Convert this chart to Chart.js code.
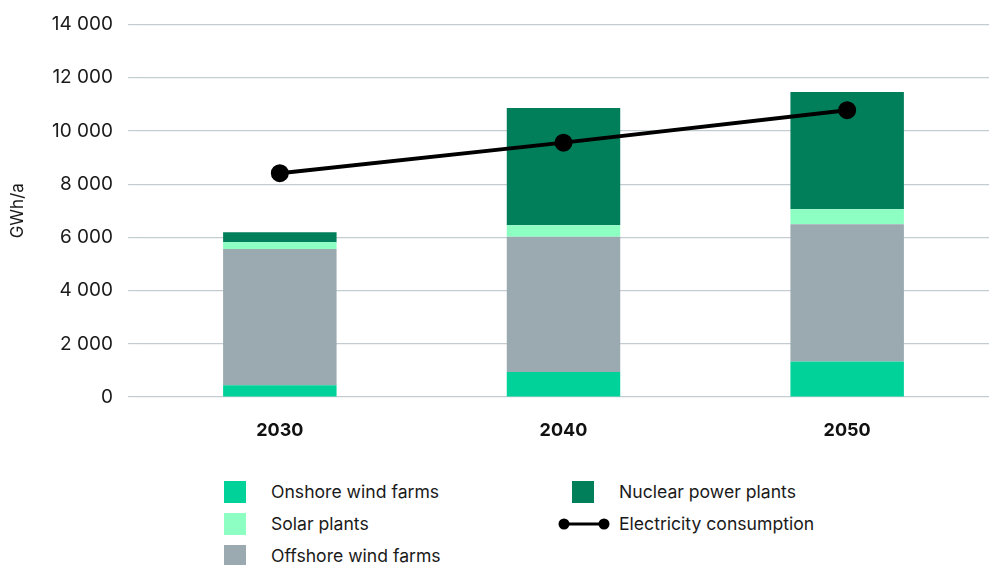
<!DOCTYPE html>
<html>
<head>
<meta charset="utf-8">
<script src="https://cdn.jsdelivr.net/npm/chart.js@4.4.1/dist/chart.umd.min.js"></script>
<style>
  body { margin: 0; background: #fff; font-family: Inter, "Noto Sans", sans-serif; overflow: hidden; }
  #wrap { position: relative; width: 989px; height: 565px; overflow: hidden; }
  #c { position: absolute; left: 0; top: 0; }
  .leg { position: absolute; font-size: 17.6px; color: #1a1a1a; line-height: 22px; white-space: nowrap; }
  .box { position: absolute; width: 22px; height: 22px; }
</style>
</head>
<body>
<div id="wrap">
  <canvas id="c" width="1000" height="450"></canvas>
  <div id="legend"></div>
</div>
<script>
var years = ['2030', '2040', '2050'];
var onshore = [440, 935, 1335];
var offshore = [5120, 5085, 5160];
var solar = [260, 435, 560];
var nuclear = [370, 4410, 4410];
var consumption = [8410, 9560, 10780];
var yTicks = [0, 2000, 4000, 6000, 8000, 10000, 12000, 14000];
// legend order (column 1 top-down, then column 2)
var legendOrder = ['Onshore wind farms', 'Solar plants', 'Offshore wind farms', 'Nuclear power plants', 'Electricity consumption'];

function fmt(v) {
    return String(v).replace(/\B(?=(\d{3})+(?!\d))/g, ' ');
}

var barStyle = { type: 'bar', stack: 'mix', order: 1, borderWidth: 0 };

// stacking order bottom -> top
var datasets = [
    Object.assign({ label: 'Onshore wind farms', data: onshore, backgroundColor: '#00d29a' }, barStyle),
    Object.assign({ label: 'Offshore wind farms', data: offshore, backgroundColor: '#9ba9b0' }, barStyle),
    Object.assign({ label: 'Solar plants', data: solar, backgroundColor: '#8effc3' }, barStyle),
    Object.assign({ label: 'Nuclear power plants', data: nuclear, backgroundColor: '#007f5a' }, barStyle),
    {
        type: 'line',
        label: 'Electricity consumption',
        data: consumption,
        stack: 'line',
        order: 0,
        borderColor: '#000',
        backgroundColor: '#000',
        borderWidth: 4,
        pointRadius: 7,
        pointHoverRadius: 7,
        fill: false
    }
];

var config = {
    type: 'bar',
    data: { labels: years, datasets: datasets },
    options: {
        responsive: false,
        animation: false,
        layout: { padding: { top: 22, right: 0, left: 0, bottom: 0 } },
        plugins: { legend: { display: false }, tooltip: { enabled: false } },
        datasets: { bar: { categoryPercentage: 1, barPercentage: 0.4 } },
        scales: {
            x: {
                stacked: true,
                grid: { display: false },
                border: { display: false },
                ticks: { color: '#111', padding: 15, font: { family: 'Inter', size: 18, weight: 'bold' } },
                afterFit: function (s) { s.height = 53; }
            },
            y: {
                stacked: true,
                min: 0,
                max: 14000,
                afterBuildTicks: function (s) { s.ticks = yTicks.map(function (v) { return { value: v }; }); },
                grid: { color: '#c3ccd0', lineWidth: 1.2, tickLength: 10 },
                border: { display: false },
                ticks: { color: '#1a1a1a', padding: 15, font: { family: 'Inter', size: 19, lineHeight: 1 }, callback: function (v) { return fmt(v); } },
                title: { display: true, text: 'GWh/a', color: '#1a1a1a', padding: { top: 8, bottom: 0 }, font: { family: 'Inter', size: 17 } },
                afterFit: function (s) { s.width = 138; }
            }
        }
    }
};

var chart = new Chart(document.getElementById('c'), config);

// legend in two columns like the source
var leg = document.getElementById('legend');
legendOrder.forEach(function (name, i) {
    var ds = chart.data.datasets.filter(function (d) { return d.label === name; })[0];
    var col = i < 3 ? 0 : 1;
    var row = i < 3 ? i : i - 3;
    var y = 481 + row * 32;
    var bx = col === 0 ? 224 : 572;
    var tx = col === 0 ? 271 : 619;
    var mark = document.createElement('div');
    if (ds.type === 'line') {
        mark.style.position = 'absolute';
        mark.style.left = '558px';
        mark.style.top = y + 'px';
        mark.innerHTML = '<svg width="52" height="22"><line x1="6" y1="11" x2="46" y2="11" stroke="#000" stroke-width="3"/>' +
            '<circle cx="6" cy="11" r="5.5" fill="#000"/><circle cx="46" cy="11" r="5.5" fill="#000"/></svg>';
    } else {
        mark.className = 'box';
        mark.style.left = bx + 'px';
        mark.style.top = y + 'px';
        mark.style.background = ds.backgroundColor;
    }
    leg.appendChild(mark);
    var t = document.createElement('div');
    t.className = 'leg';
    t.style.left = tx + 'px';
    t.style.top = y + 'px';
    t.textContent = ds.label;
    leg.appendChild(t);
});
</script>
</body>
</html>
